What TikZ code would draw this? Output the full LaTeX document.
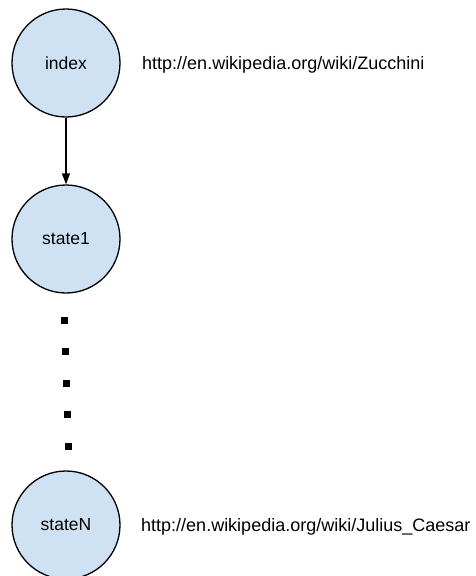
\documentclass[tikz,border=0pt]{standalone}
\usepackage{fontspec}
\setmainfont{Liberation Sans}
\usetikzlibrary{arrows.meta}
\definecolor{nodefill}{HTML}{CFE2F3}
\begin{document}
\begin{tikzpicture}[x=1pt,y=-1pt,
  statenode/.style={circle, draw=black, line width=1.3pt, fill=nodefill, minimum size=108pt, inner sep=0pt, font=\fontsize{17.5}{20}\selectfont},
  urltext/.style={anchor=west, inner sep=0pt, font=\fontsize{18}{21}\selectfont},
  sqdot/.style={fill=black, minimum size=7pt, inner sep=0pt, draw=none, rectangle},
  link/.style={line width=1.3pt, -{Triangle[length=11pt,width=8pt]}}]
\useasboundingbox (0,0) rectangle (476,576);
\node[statenode] (index) at (66,63) {index};
\node[statenode] (state1) at (66,239) {state1};
\node[statenode] (stateN) at (66,525) {stateN};
\node[urltext] (url1) at (142,65) {http://en.wikipedia.org/wiki/Zucchini};
\node[urltext] (url2) at (141,527) {http://en.wikipedia.org/wiki/Julius\_Caesar};
\draw[link] (index) -- (state1);
\node[sqdot] (d1) at (64.5,320) {};
\node[sqdot] (d2) at (65.5,351.5) {};
\node[sqdot] (d3) at (66,383) {};
\node[sqdot] (d4) at (67,414) {};
\node[sqdot] (d5) at (68,446) {};
\end{tikzpicture}
\end{document}
